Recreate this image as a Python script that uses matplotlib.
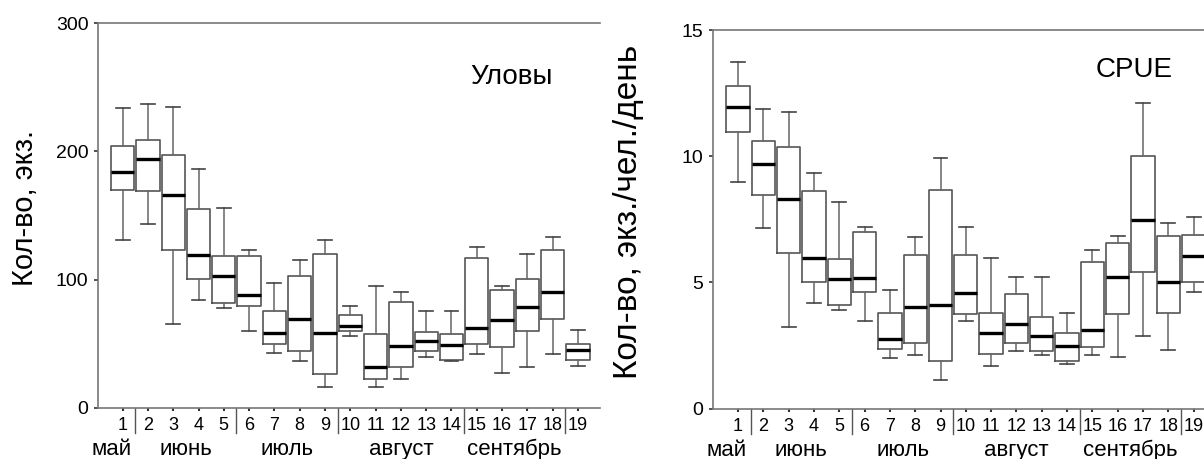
import matplotlib.pyplot as plt
from matplotlib import transforms

plt.rcParams['font.family'] = ['Liberation Sans', 'DejaVu Sans']

# weeks of the season, grouped by month
weeks = list(range(1, 20))
months = ['май', 'июнь', 'июль', 'август', 'сентябрь']
month_pos = [0.55, 3.5, 7.5, 12, 16.5]
month_breaks = [1.5, 5.5, 9.5, 14.5, 18.5]

# Уловы (catch), экз.
catch_lo = [131, 143, 65, 84, 78, 59.5, 43, 36.6, 16.4, 55.6,
            16.4, 22.6, 39.5, 36.5, 41.6, 26.8, 31.7, 41.8, 32.7]
catch_q1 = [170, 169, 123, 100.5, 82, 79.5, 49.6, 44.4, 26.5, 59.5,
            22.6, 31.7, 44.4, 37.5, 49.6, 47.5, 59.5, 69.4, 37.1]
catch_med = [184, 194, 166, 119, 103, 88, 58, 69, 58, 64,
             31.7, 48, 52.2, 48.6, 62, 68.3, 78.2, 90, 45]
catch_q3 = [204, 209, 197, 155, 118, 118, 75.6, 102.6, 120, 72.7,
            57.7, 82.3, 59.2, 57.7, 117, 92.2, 100.5, 123.4, 49.6]
catch_hi = [234, 237, 235, 186, 156, 123, 97, 115.6, 130.6, 79.5,
            95, 90.4, 75.3, 75.3, 125.2, 95.3, 120, 133.2, 60.5]

# CPUE, экз./чел./день
cpue_lo = [8.97, 7.14, 3.24, 4.2, 3.9, 3.49, 2.02, 2.11, 1.15, 3.49,
           1.7, 2.28, 2.11, 1.77, 2.13, 2.06, 2.89, 2.32, 4.61]
cpue_q1 = [10.95, 8.47, 6.18, 5.0, 4.1, 4.61, 2.38, 2.59, 1.88, 3.75,
           2.18, 2.59, 2.27, 1.88, 2.43, 3.75, 5.41, 3.79, 5.0]
cpue_med = [11.96, 9.69, 8.29, 5.96, 5.14, 5.18, 2.76, 4.04, 4.12, 4.6,
            3.01, 3.35, 2.88, 2.48, 3.1, 5.23, 7.49, 5.03, 6.05]
cpue_q3 = [12.77, 10.6, 10.35, 8.62, 5.93, 7.01, 3.79, 6.07, 8.66, 6.07,
           3.79, 4.54, 3.64, 2.98, 5.82, 6.58, 10.0, 6.84, 6.88]
cpue_hi = [13.75, 11.87, 11.77, 9.32, 8.2, 7.2, 4.7, 6.79, 9.94, 7.2,
           5.97, 5.22, 5.22, 3.79, 6.29, 6.84, 12.11, 7.34, 7.61]


def make_stats(lo, q1, med, q3, hi):
    return [dict(whislo=a, q1=b, med=c, q3=d, whishi=e, fliers=[])
            for a, b, c, d, e in zip(lo, q1, med, q3, hi)]


def draw_panel(ax, stats, xlim, ylim, yticks, ylabel, ylabel_x, ylabel_size, title, title_xy):
    ax.bxp(stats, positions=weeks, widths=0.92, capwidths=0.55,
           showfliers=False, patch_artist=False,
           boxprops=dict(color='#555555', linewidth=1.2),
           whiskerprops=dict(color='#666666', linewidth=1.1),
           capprops=dict(color='#444444', linewidth=1.2),
           medianprops=dict(color='black', linewidth=2.4))
    ax.set_xlim(*xlim)
    ax.set_ylim(*ylim)
    ax.set_yticks(yticks)
    ax.set_xticks(weeks)
    ax.set_xticklabels([str(w) for w in weeks], fontsize=13)
    ax.tick_params(axis='y', labelsize=14, length=3, width=1.2, color='#333333', pad=4)
    ax.tick_params(axis='x', length=2.5, width=1.5, color='#333333', pad=4)
    ax.spines['right'].set_visible(False)
    for side in ['left', 'top', 'bottom']:
        ax.spines[side].set_color('#777777')
        ax.spines[side].set_linewidth(1.2)

    trans = transforms.blended_transform_factory(ax.transData, ax.transAxes)
    for b in month_breaks:
        ax.plot([b, b], [0, -0.066], transform=trans, color='#555555',
                linewidth=1.0, clip_on=False)
    for name, pos in zip(months, month_pos):
        ax.text(pos, -0.124, name, transform=trans, ha='center', va='baseline',
                fontsize=16)

    ax.set_ylabel(ylabel, fontsize=ylabel_size)
    ax.yaxis.set_label_coords(ylabel_x, 0.52)
    ax.text(title_xy[0], title_xy[1], title, transform=ax.transAxes,
            ha='center', va='center', fontsize=20)


fig = plt.figure(figsize=(12.04, 4.59), dpi=100)
ax1 = fig.add_axes([0.0816, 0.1118, 0.4167, 0.8374])
ax2 = fig.add_axes([0.5922, 0.1096, 0.4078, 0.8250])

draw_panel(ax1, make_stats(catch_lo, catch_q1, catch_med, catch_q3, catch_hi),
           (0.036, 19.87), (0, 300), [0, 100, 200, 300],
           'Кол-во, экз.', -0.118, 21, 'Уловы', (0.823, 0.86))
draw_panel(ax2, make_stats(cpue_lo, cpue_q1, cpue_med, cpue_q3, cpue_hi),
           (0.012, 19.41), (0, 15), [0, 5, 10, 15],
           'Кол-во, экз./чел./день', -0.14, 24, 'CPUE', (0.857, 0.894))

fig.savefig('out.png', dpi=100)
